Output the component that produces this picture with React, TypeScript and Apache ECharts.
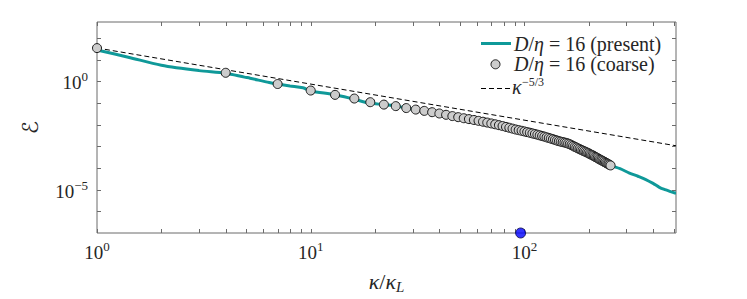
import React, { useEffect, useRef } from "react";
import * as echarts from "echarts";

// ---- data ----
const presentX = [1, 1.4, 2, 3, 4, 4.9, 5.2, 6.4, 7, 8, 9.2, 10, 13, 15.8, 18.8, 22, 25, 31, 40, 50, 60, 70, 80, 100, 120, 140, 160, 180, 200, 220, 240, 253, 280, 310, 340, 370, 400, 428, 455, 477, 506, 512];
const presentY = [28.2, 13.2, 5.62, 3.16, 2.4, 1.58, 1.41, 0.89, 0.76, 0.62, 0.51, 0.36, 0.245, 0.155, 0.1, 0.0851, 0.0724, 0.0501, 0.0331, 0.0214, 0.0155, 0.0115, 0.0085, 0.0049, 0.0031, 0.00195, 0.00135, 7.76e-4, 4.79e-4, 2.88e-4, 1.78e-4, 1.32e-4, 9.33e-5, 5.89e-5, 4.17e-5, 2.95e-5, 1.95e-5, 1.29e-5, 1.0e-5, 8.51e-6, 7.08e-6, 7.0e-6];

const coarseX = [1, 4, 7, 10, 13, 16, 19, 22, 25, 28, 31, 34, 37, 40, 43, 46, 49, 52, 55, 58, 61, 64, 67, 70, 73, 76, 79, 82, 85, 88, 91, 94, 97, 100, 103, 106, 109, 112, 115, 118, 121, 124, 127, 130, 133, 136, 139, 142, 145, 148, 151, 154, 157, 160, 163, 166, 169, 172, 175, 178, 181, 184, 187, 190, 193, 196, 199, 202, 205, 208, 211, 214, 217, 220, 223, 226, 229, 232, 235, 238, 241, 244, 247, 250, 253];
const coarseY = [34.7, 2.51, 0.759, 0.38, 0.24, 0.162, 0.11, 0.0851, 0.0724, 0.0589, 0.0501, 0.0437, 0.038, 0.0331, 0.0288, 0.0251, 0.0224, 0.02, 0.0182, 0.0166, 0.0151, 0.0138, 0.0126, 0.0115, 0.0105, 0.00955, 0.00871, 0.00794, 0.00724, 0.00661, 0.00603, 0.00562, 0.00525, 0.0049, 0.00457, 0.00427, 0.00398, 0.00372, 0.00347, 0.00324, 0.00302, 0.00282, 0.00263, 0.00245, 0.00229, 0.00214, 0.002, 0.00186, 0.00174, 0.00166, 0.00158, 0.00151, 0.00145, 0.00135, 0.00126, 0.00115, 0.00105, 9.55e-4, 8.91e-4, 8.13e-4, 7.59e-4, 6.92e-4, 6.46e-4, 6.03e-4, 5.62e-4, 5.25e-4, 4.9e-4, 4.47e-4, 4.17e-4, 3.89e-4, 3.63e-4, 3.31e-4, 3.09e-4, 2.88e-4, 2.63e-4, 2.45e-4, 2.29e-4, 2.14e-4, 2.0e-4, 1.86e-4, 1.74e-4, 1.62e-4, 1.51e-4, 1.41e-4, 1.32e-4];

const refX = [1, 512];
const refY = [35, 1.07e-3];

const strayX = [96];
const strayY = [1e-7];

const xTickVals = [1, 2, 3, 4, 5, 6, 7, 8, 9, 10, 20, 30, 40, 50, 60, 70, 80, 90, 100, 200, 300, 400, 500];
const yTickVals = [1e-6, 1e-5, 1e-4, 1e-3, 1e-2, 1e-1, 1, 10, 100];
const xLabelExps = [0, 1, 2];
const yLabelExps = [0, -5];

const legendNames = ["D/η = 16 (present)", "D/η = 16 (coarse)", "κ^(−5/3)"];

const FONT = "'Liberation Serif', 'DejaVu Serif', serif";
const TEAL = "#0f9999";
const AXIS = "#6b6b6b";
const TXT = "#262626";

const supNames: Record<string, string> = { "0": "0", "1": "1", "2": "2", "-5": "−5" };

function makeFmt(exps: number[]) {
  return (v: number) => {
    const l = Math.log10(v);
    const e = Math.round(l);
    if (Math.abs(l - e) > 1e-6) return "";
    if (exps.indexOf(e) < 0) return "";
    return "{b|10}{sup|" + supNames[String(e)] + "}";
  };
}

const labelRich = {
  b: { fontSize: 19, fontFamily: FONT, color: TXT, lineHeight: 22, verticalAlign: "bottom" },
  sup: { fontSize: 13, fontFamily: FONT, color: TXT, lineHeight: 13, verticalAlign: "top" },
};

const legRich = {
  i: { fontSize: 20, fontFamily: FONT, fontStyle: "italic", fill: TXT, lineHeight: 19 },
  n: { fontSize: 20, fontFamily: FONT, fill: TXT, lineHeight: 19 },
};

export default function App() {
  const ref = useRef<HTMLDivElement>(null);
  useEffect(() => {
    if (!ref.current) return;
    const chart = echarts.init(ref.current, undefined, { renderer: "svg" });
    const tickData: number[][] = [];
    xTickVals.forEach((v) => tickData.push([v, 1, 0]));
    yTickVals.forEach((v) => tickData.push([1, v, 1]));

    const option: any = {
      animation: false,
      backgroundColor: "#ffffff",
      grid: {
        left: 97,
        top: 22,
        width: 579,
        height: 219,
        show: true,
        borderColor: AXIS,
        borderWidth: 1,
        backgroundColor: "transparent",
      },
      xAxis: {
        type: "log",
        logBase: 10,
        min: 1,
        max: 512,
        splitNumber: 5,
        axisLine: { show: false },
        axisTick: { show: false },
        splitLine: { show: false },
        minorTick: { show: false },
        axisLabel: {
          formatter: makeFmt(xLabelExps),
          rich: labelRich,
          margin: 7,
          showMinLabel: true,
          showMaxLabel: true,
        },
        name: "{i|κ}{n|/}{i|κ}{s|L}",
        nameLocation: "middle",
        nameGap: 37,
        nameTextStyle: {
          rich: {
            i: { fontSize: 22, fontFamily: FONT, fontStyle: "italic", color: TXT, lineHeight: 24, verticalAlign: "top" },
            n: { fontSize: 22, fontFamily: FONT, color: TXT, lineHeight: 24, verticalAlign: "top" },
            s: { fontSize: 15, fontFamily: FONT, fontStyle: "italic", color: TXT, lineHeight: 15, verticalAlign: "bottom" },
          },
        },
      },
      yAxis: {
        type: "log",
        logBase: 10,
        min: 1e-7,
        max: 556,
        splitNumber: 10,
        axisLine: { show: false },
        axisTick: { show: false },
        splitLine: { show: false },
        minorTick: { show: false },
        axisLabel: {
          formatter: makeFmt(yLabelExps),
          rich: labelRich,
          margin: 9,
        },
        name: "ℰ",
        nameLocation: "middle",
        nameGap: 56,
        nameTextStyle: { fontSize: 22, fontFamily: "'DejaVu Serif', 'DejaVu Sans', serif", color: TXT },
      },
      series: [
        {
          name: legendNames[0],
          type: "line",
          data: presentX.map((x, i) => [x, presentY[i]]),
          showSymbol: false,
          symbol: "none",
          smooth: 0.3,
          lineStyle: { color: TEAL, width: 3 },
          z: 2,
          silent: true,
        },
        {
          name: legendNames[2],
          type: "line",
          data: refX.map((x, i) => [x, refY[i]]),
          showSymbol: false,
          symbol: "none",
          lineStyle: { color: "#000", width: 1, type: [5, 3] },
          z: 3,
          silent: true,
        },
        {
          name: legendNames[1],
          type: "scatter",
          data: coarseX.map((x, i) => [x, coarseY[i]]),
          symbol: "circle",
          symbolSize: 9,
          itemStyle: { color: "#cccccc", borderColor: "#1a1a1a", borderWidth: 1, opacity: 1 },
          z: 4,
          clip: false,
          silent: true,
        },
        {
          type: "scatter",
          data: strayX.map((x, i) => [x, strayY[i]]),
          symbol: "circle",
          symbolSize: 10,
          itemStyle: { color: "#0000ff", borderColor: "#000044", borderWidth: 1 },
          z: 6,
          clip: false,
          silent: true,
        },
        {
          type: "custom",
          data: tickData,
          encode: { x: 0, y: 1 },
          clip: false,
          silent: true,
          z: 5,
          renderItem: (params: any, api: any) => {
            const cs = params.coordSys;
            const L = 4;
            const st = { stroke: AXIS, lineWidth: 1 };
            const kind = api.value(2);
            if (kind === 0) {
              const p = api.coord([api.value(0), 1]);
              const x = Math.round(p[0]) + 0.5;
              const b = cs.y + cs.height;
              return {
                type: "group",
                children: [
                  { type: "line", shape: { x1: x, y1: b, x2: x, y2: b - L }, style: st },
                  { type: "line", shape: { x1: x, y1: cs.y, x2: x, y2: cs.y + L }, style: st },
                ],
              };
            }
            const p = api.coord([1, api.value(1)]);
            const y = Math.round(p[1]) + 0.5;
            const r = cs.x + cs.width;
            return {
              type: "group",
              children: [
                { type: "line", shape: { x1: cs.x, y1: y, x2: cs.x + L, y2: y }, style: st },
                { type: "line", shape: { x1: r, y1: y, x2: r - L, y2: y }, style: st },
              ],
            };
          },
        },
      ],
      graphic: [
        { type: "line", shape: { x1: 481, y1: 43.5, x2: 511, y2: 43.5 }, style: { stroke: TEAL, lineWidth: 3 }, z: 10 },
        {
          type: "text",
          x: 514,
          y: 43.5,
          z: 10,
          style: { text: "{i|D}{n|/}{i|η}{n| = 16 (present)}", verticalAlign: "middle", rich: legRich },
        },
        { type: "circle", shape: { cx: 495.5, cy: 64.3, r: 4.5 }, style: { fill: "#cccccc", stroke: "#1a1a1a", lineWidth: 1 }, z: 10 },
        {
          type: "text",
          x: 514,
          y: 64.3,
          z: 10,
          style: { text: "{i|D}{n|/}{i|η}{n| = 16 (coarse)}", verticalAlign: "middle", rich: legRich },
        },
        { type: "line", shape: { x1: 481, y1: 88.5, x2: 511, y2: 88.5 }, style: { stroke: "#000", lineWidth: 1, lineDash: [5, 3] }, z: 10 },
        {
          type: "text",
          x: 512,
          y: 96,
          z: 10,
          style: { text: "{i|κ}", verticalAlign: "bottom", rich: { i: { fontSize: 20, fontFamily: FONT, fontStyle: "italic", fill: TXT, lineHeight: 18 } } },
        },
        {
          type: "text",
          x: 522,
          y: 88,
          z: 10,
          style: { text: "{s|−5/3}", verticalAlign: "bottom", rich: { s: { fontSize: 12, fontFamily: FONT, fill: TXT, lineHeight: 12 } } },
        },
      ],
    };
    chart.setOption(option);
    return () => chart.dispose();
  }, []);
  return (
    <div
      ref={ref}
      style={{ position: "absolute", left: 0, top: 0, width: 747, height: 299, background: "#fff" }}
    />
  );
}
